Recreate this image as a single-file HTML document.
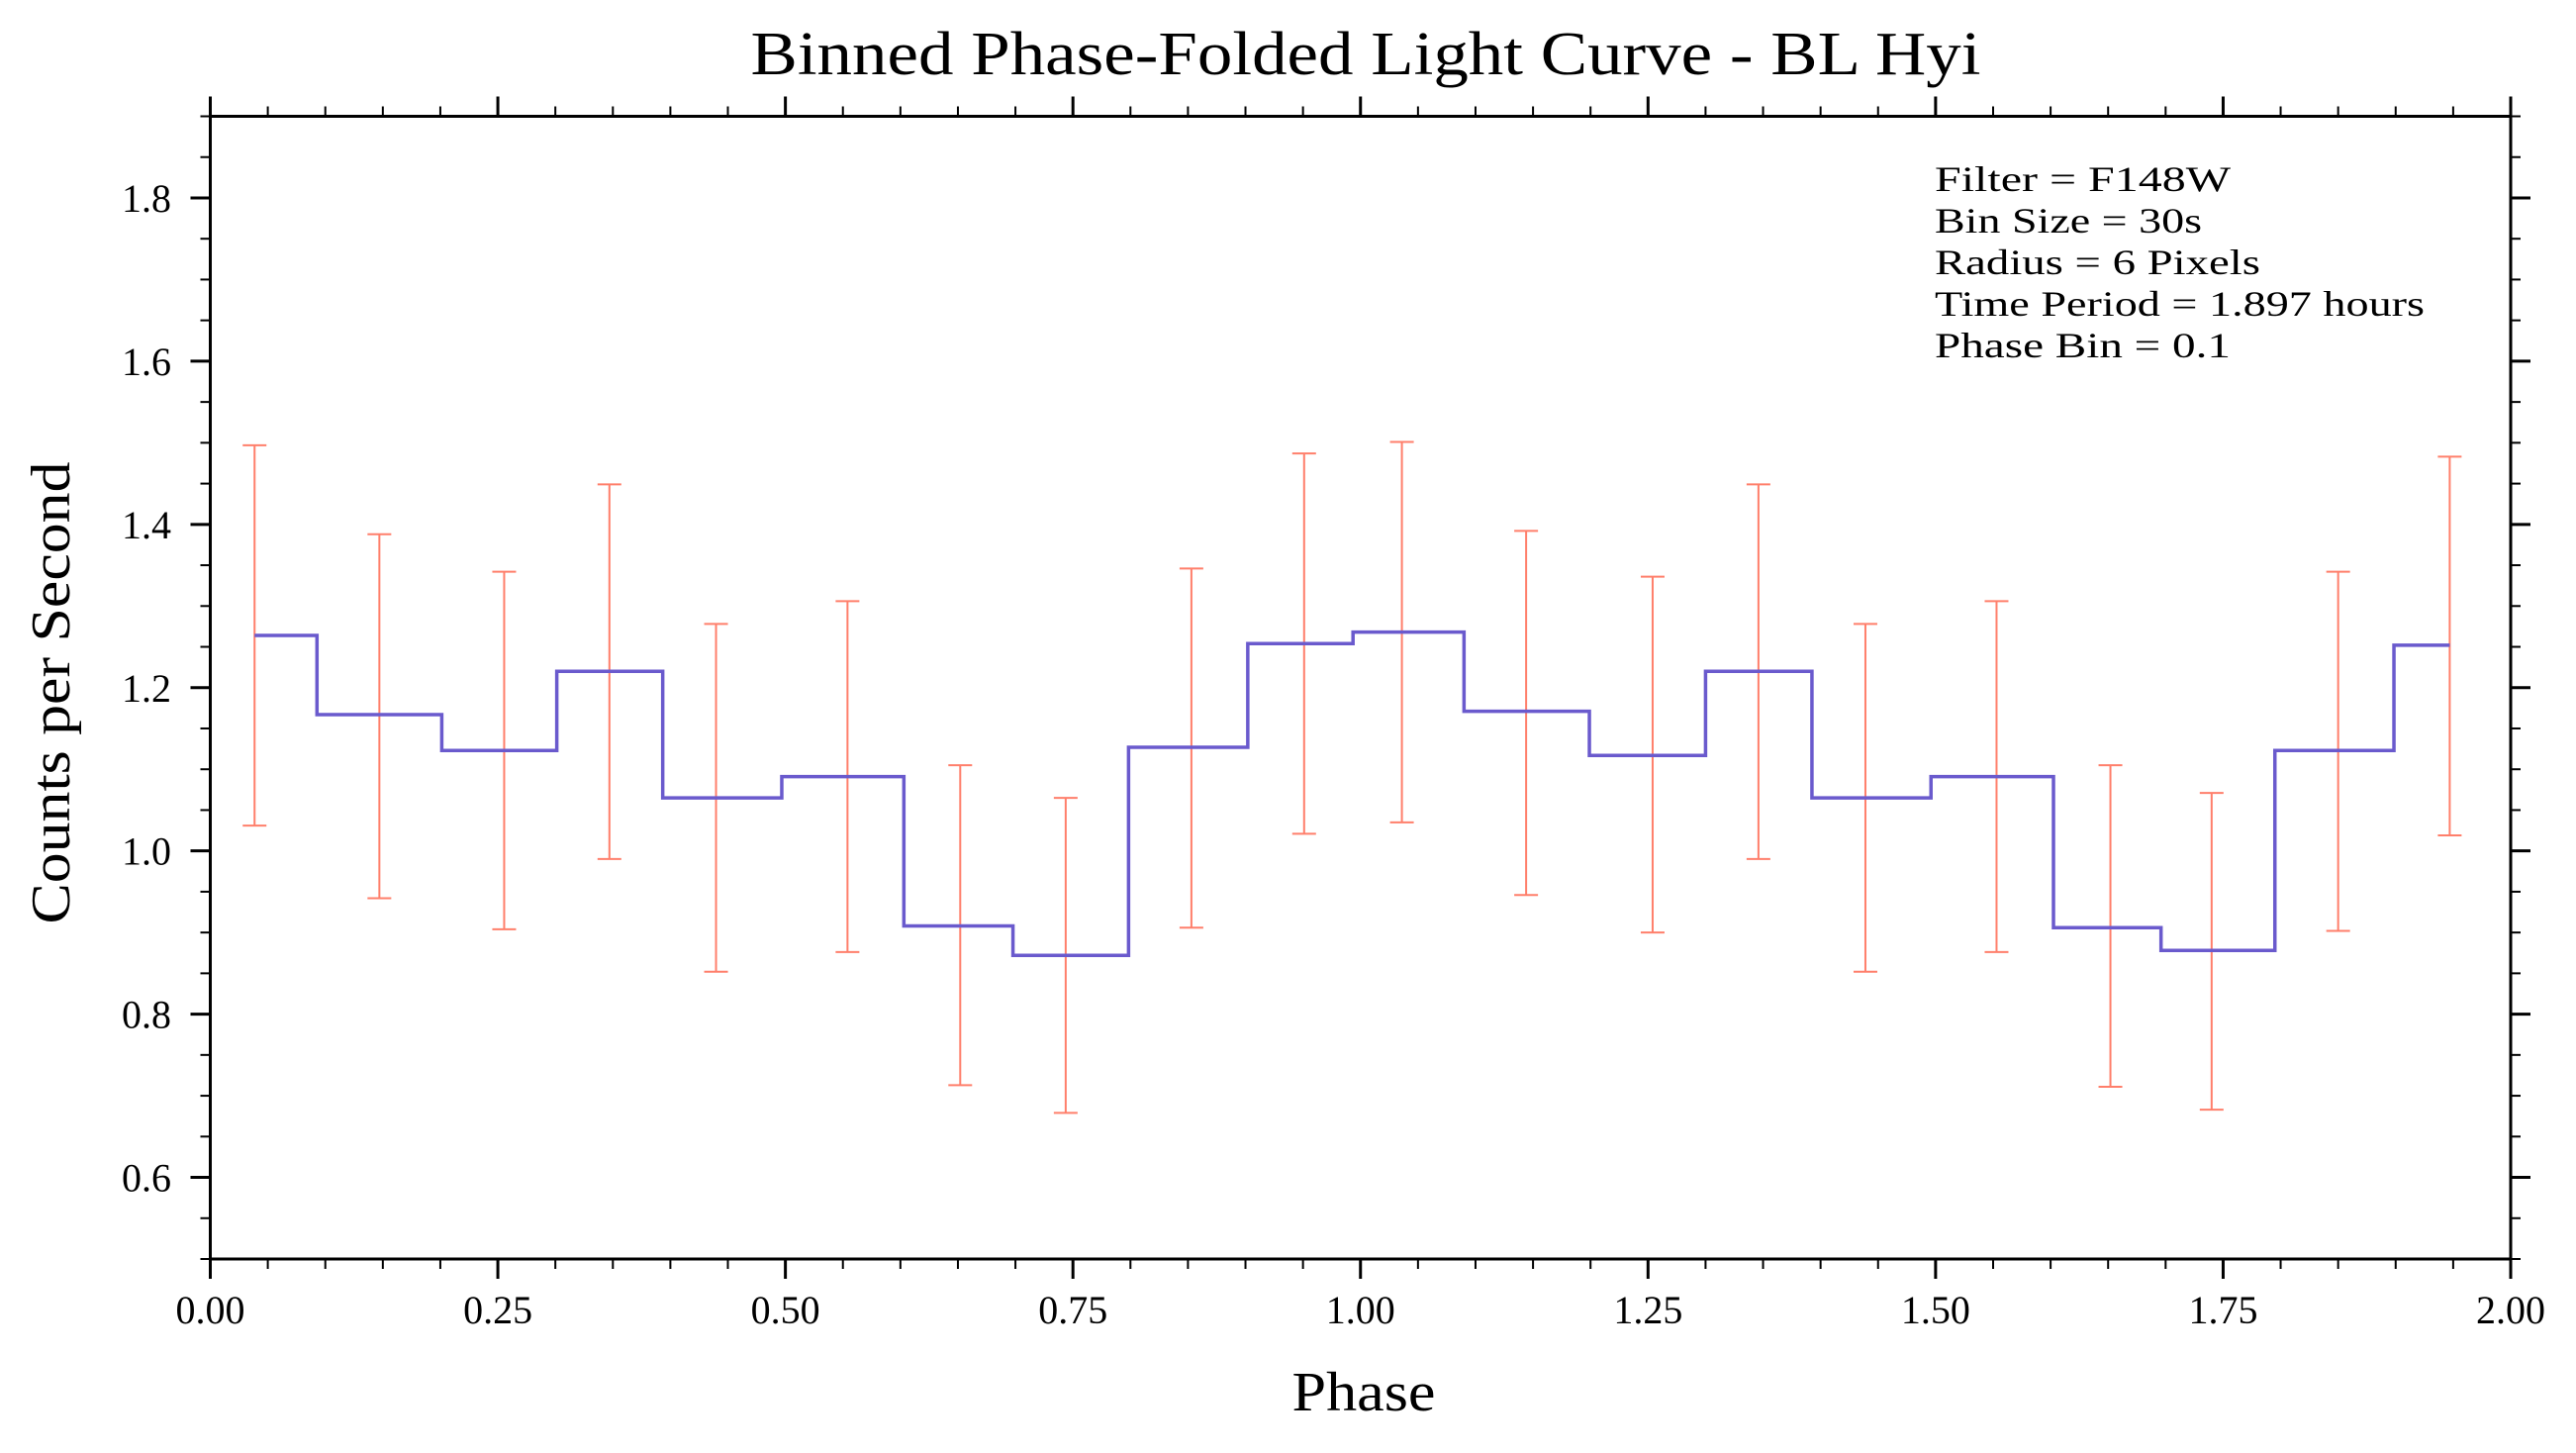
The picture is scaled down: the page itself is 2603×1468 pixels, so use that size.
<!DOCTYPE html>
<html><head><meta charset="utf-8"><style>
html,body{margin:0;padding:0;background:#fff;}
svg{display:block;}
text{font-family:"Liberation Serif",serif;fill:#000;}
</style></head><body>
<svg id="chart" width="2603" height="1468" viewBox="0 0 2603 1468" xmlns="http://www.w3.org/2000/svg">
<rect width="2603" height="1468" fill="#fff"/>
<text x="1380" y="75" font-size="62" text-anchor="middle" textLength="1243" lengthAdjust="spacingAndGlyphs">Binned Phase-Folded Light Curve - BL Hyi</text>
<text x="1378" y="1425" font-size="56" text-anchor="middle" textLength="145" lengthAdjust="spacingAndGlyphs">Phase</text>
<text transform="translate(70,700) rotate(-90)" font-size="56" text-anchor="middle" textLength="467" lengthAdjust="spacingAndGlyphs">Counts per Second</text>
<g id="ticks"></g>
<g id="errs"></g>
<g id="steps"></g>
<rect x="212.5" y="117.5" width="2324.5" height="1154.5" fill="none" stroke="#000" stroke-width="3"/>
<g font-size="36">
<text x="1955" y="193" textLength="299" lengthAdjust="spacingAndGlyphs">Filter = F148W</text>
<text x="1955" y="235" textLength="270" lengthAdjust="spacingAndGlyphs">Bin Size = 30s</text>
<text x="1955" y="277" textLength="329" lengthAdjust="spacingAndGlyphs">Radius = 6 Pixels</text>
<text x="1955" y="319" textLength="495" lengthAdjust="spacingAndGlyphs">Time Period = 1.897 hours</text>
<text x="1955" y="361" textLength="299" lengthAdjust="spacingAndGlyphs">Phase Bin = 0.1</text>
</g>
</svg>
<script>
const phases=[0.0385,0.147,0.2555,0.347,0.4397,0.554,0.652,0.7437,0.853,0.951,1.036,1.144,1.254,1.346,1.439,1.553,1.652,1.740,1.850,1.947];
const counts=[1.264,1.167,1.123,1.220,1.065,1.091,0.908,0.872,1.127,1.254,1.268,1.171,1.117,1.220,1.065,1.091,0.906,0.878,1.123,1.252];
const errUpper=[1.497,1.388,1.342,1.449,1.278,1.306,1.105,1.065,1.346,1.487,1.501,1.392,1.336,1.449,1.278,1.306,1.105,1.071,1.342,1.483];
const errLower=[1.031,0.942,0.904,0.990,0.852,0.876,0.713,0.679,0.906,1.021,1.035,0.946,0.900,0.990,0.852,0.876,0.711,0.683,0.902,1.019];
const xTickLabels=["0.00","0.25","0.50","0.75","1.00","1.25","1.50","1.75","2.00"];
const yTickLabels=["0.6","0.8","1.0","1.2","1.4","1.6","1.8"];
const X0=212.5,X1=2537,Y0=1272,Y1=117.5,XMIN=0,XMAX=2,YMIN=0.5,YMAX=1.9;
const sx=v=>X0+(v-XMIN)/(XMAX-XMIN)*(X1-X0);
const sy=v=>Y0-(v-YMIN)/(YMAX-YMIN)*(Y0-Y1);
const NS="http://www.w3.org/2000/svg";
function mk(tag,attrs,parent){const e=document.createElementNS(NS,tag);for(const k in attrs)e.setAttribute(k,attrs[k]);parent.appendChild(e);return e;}
const tg=document.getElementById('ticks');
for(let i=0;i<=40;i++){const v=i*0.05;const x=sx(v);const major=(i%5===0);const L=major?20:10;
 let t=mk('line',{x1:x,y1:Y0,x2:x,y2:Y0+L,stroke:'#000','stroke-width':major?3:2},tg);
 
 
 t=mk('line',{x1:x,y1:Y1,x2:x,y2:Y1-L,stroke:'#000','stroke-width':major?3:2},tg);
 
 }
xTickLabels.forEach(s=>{const v=parseFloat(s);const t=mk('text',{x:sx(v),y:1337,'font-size':40,'text-anchor':'middle'},tg);t.textContent=s;
 
 });
for(let i=0;i<=28;i++){const v=YMIN+i*0.05;const y=sy(v);const major=(i%4===2);const L=major?20:10;
 let t=mk('line',{x1:X0,y1:y,x2:X0-L,y2:y,stroke:'#000','stroke-width':major?3:2},tg);
 
 
 t=mk('line',{x1:X1,y1:y,x2:X1+L,y2:y,stroke:'#000','stroke-width':major?3:2},tg);
 
 }
yTickLabels.forEach(s=>{const v=parseFloat(s);const t=mk('text',{x:173,y:sy(v)+14,'font-size':40,'text-anchor':'end'},tg);t.textContent=s;
 
 });
const eg=document.getElementById('errs');
phases.forEach((p,i)=>{const x=sx(p);const g=mk('g',{stroke:'#ff7f6b','stroke-width':2},eg);
 
 
 mk('line',{x1:x,y1:sy(errUpper[i]),x2:x,y2:sy(errLower[i])},g);
 mk('line',{x1:x-12,y1:sy(errUpper[i]),x2:x+12,y2:sy(errUpper[i])},g);
 mk('line',{x1:x-12,y1:sy(errLower[i]),x2:x+12,y2:sy(errLower[i])},g);});
let d='M'+sx(phases[0])+','+sy(counts[0]);
for(let i=1;i<phases.length;i++){const m=(phases[i-1]+phases[i])/2;d+=' H'+sx(m)+' V'+sy(counts[i]);}
d+=' H'+sx(phases[phases.length-1]);
const sp=mk('path',{d:d,fill:'none',stroke:'#6a5acd','stroke-width':3.5},document.getElementById('steps'));


</script>
</body></html>
